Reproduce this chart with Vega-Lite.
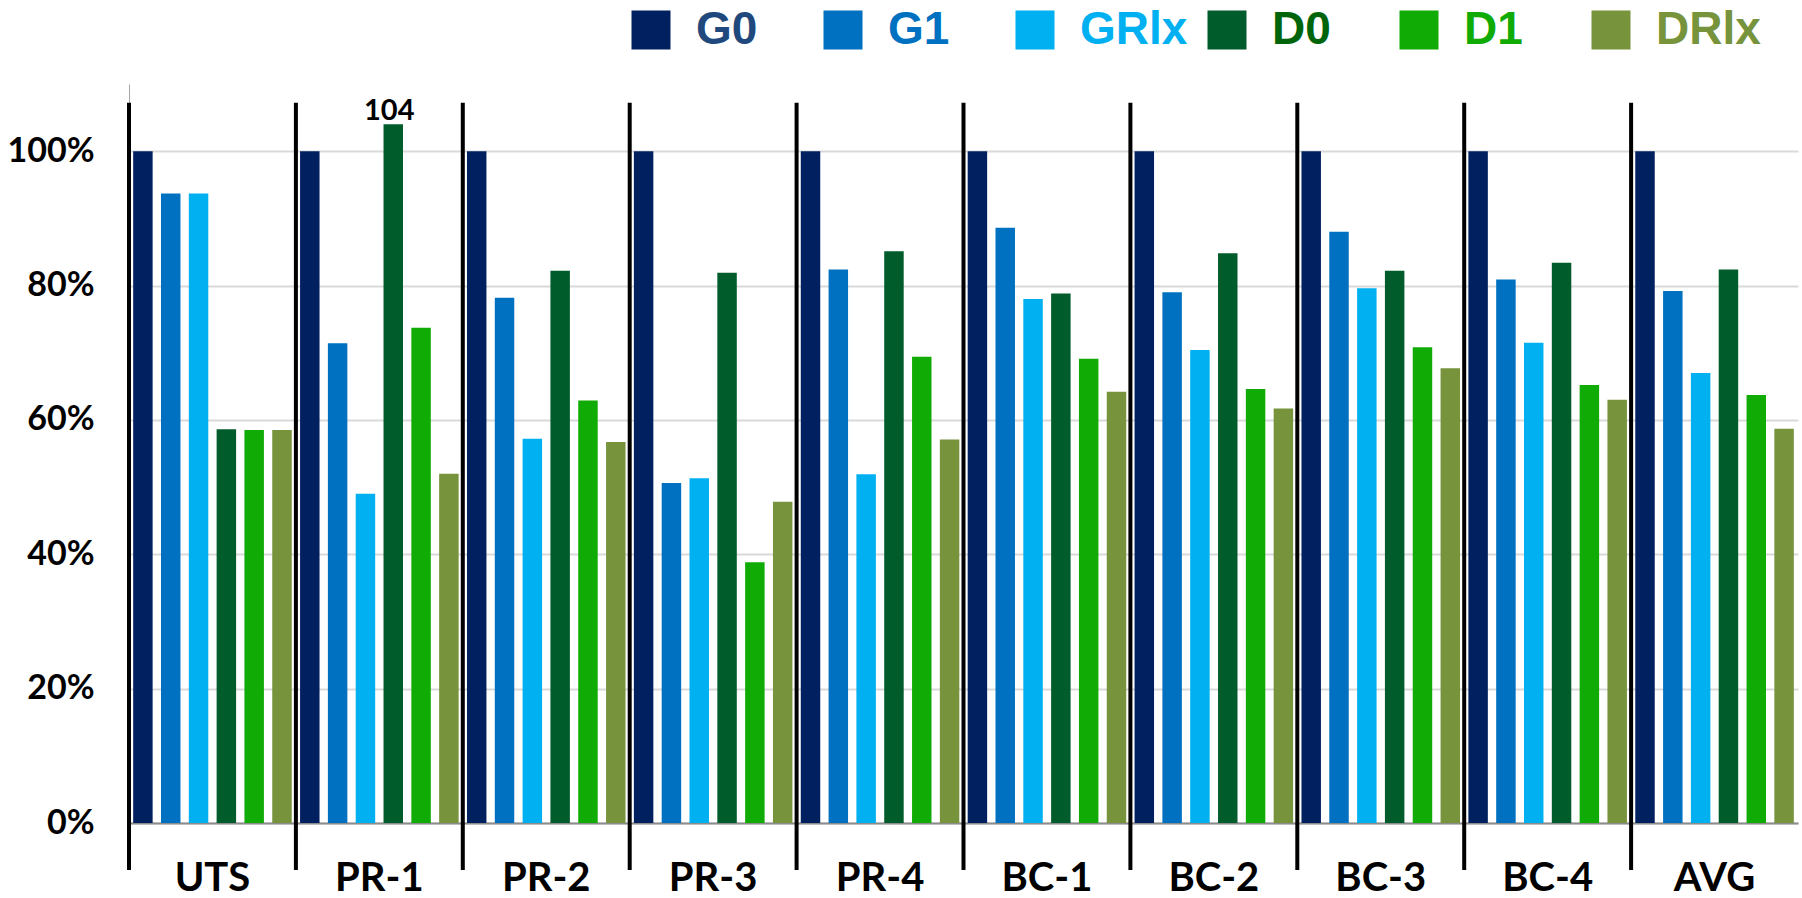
{
  "$schema": "https://vega.github.io/schema/vega-lite/v6.json",
  "width": 1669,
  "height": 739,
  "autosize": {"type": "none"},
  "padding": {"left": 129, "top": 84, "right": 4, "bottom": 75},
  "background": "white",
  "config": {"view": {"stroke": null}, "font": "Lato"},
  "data": {
    "values": [
      {"group": "UTS", "series": "G0", "v": 100},
      {"group": "UTS", "series": "G1", "v": 93.7},
      {"group": "UTS", "series": "GRlx", "v": 93.7},
      {"group": "UTS", "series": "D0", "v": 58.6},
      {"group": "UTS", "series": "D1", "v": 58.5},
      {"group": "UTS", "series": "DRlx", "v": 58.5},
      {"group": "PR-1", "series": "G0", "v": 100},
      {"group": "PR-1", "series": "G1", "v": 71.4},
      {"group": "PR-1", "series": "GRlx", "v": 49.0},
      {"group": "PR-1", "series": "D0", "v": 104},
      {"group": "PR-1", "series": "D1", "v": 73.7},
      {"group": "PR-1", "series": "DRlx", "v": 52.0},
      {"group": "PR-2", "series": "G0", "v": 100},
      {"group": "PR-2", "series": "G1", "v": 78.2},
      {"group": "PR-2", "series": "GRlx", "v": 57.2},
      {"group": "PR-2", "series": "D0", "v": 82.2},
      {"group": "PR-2", "series": "D1", "v": 62.9},
      {"group": "PR-2", "series": "DRlx", "v": 56.7},
      {"group": "PR-3", "series": "G0", "v": 100},
      {"group": "PR-3", "series": "G1", "v": 50.6},
      {"group": "PR-3", "series": "GRlx", "v": 51.3},
      {"group": "PR-3", "series": "D0", "v": 81.9},
      {"group": "PR-3", "series": "D1", "v": 38.8},
      {"group": "PR-3", "series": "DRlx", "v": 47.8},
      {"group": "PR-4", "series": "G0", "v": 100},
      {"group": "PR-4", "series": "G1", "v": 82.4},
      {"group": "PR-4", "series": "GRlx", "v": 51.9},
      {"group": "PR-4", "series": "D0", "v": 85.1},
      {"group": "PR-4", "series": "D1", "v": 69.4},
      {"group": "PR-4", "series": "DRlx", "v": 57.1},
      {"group": "BC-1", "series": "G0", "v": 100},
      {"group": "BC-1", "series": "G1", "v": 88.6},
      {"group": "BC-1", "series": "GRlx", "v": 78.0},
      {"group": "BC-1", "series": "D0", "v": 78.8},
      {"group": "BC-1", "series": "D1", "v": 69.1},
      {"group": "BC-1", "series": "DRlx", "v": 64.2},
      {"group": "BC-2", "series": "G0", "v": 100},
      {"group": "BC-2", "series": "G1", "v": 79.0},
      {"group": "BC-2", "series": "GRlx", "v": 70.4},
      {"group": "BC-2", "series": "D0", "v": 84.8},
      {"group": "BC-2", "series": "D1", "v": 64.6},
      {"group": "BC-2", "series": "DRlx", "v": 61.7},
      {"group": "BC-3", "series": "G0", "v": 100},
      {"group": "BC-3", "series": "G1", "v": 88.0},
      {"group": "BC-3", "series": "GRlx", "v": 79.6},
      {"group": "BC-3", "series": "D0", "v": 82.2},
      {"group": "BC-3", "series": "D1", "v": 70.8},
      {"group": "BC-3", "series": "DRlx", "v": 67.7},
      {"group": "BC-4", "series": "G0", "v": 100},
      {"group": "BC-4", "series": "G1", "v": 80.9},
      {"group": "BC-4", "series": "GRlx", "v": 71.5},
      {"group": "BC-4", "series": "D0", "v": 83.4},
      {"group": "BC-4", "series": "D1", "v": 65.2},
      {"group": "BC-4", "series": "DRlx", "v": 63.0},
      {"group": "AVG", "series": "G0", "v": 100},
      {"group": "AVG", "series": "G1", "v": 79.2},
      {"group": "AVG", "series": "GRlx", "v": 67.0},
      {"group": "AVG", "series": "D0", "v": 82.4},
      {"group": "AVG", "series": "D1", "v": 63.7},
      {"group": "AVG", "series": "DRlx", "v": 58.7}
    ]
  },
  "layer": [
    {
      "mark": {"type": "bar"},
      "encoding": {
        "x": {
          "field": "group", "type": "nominal", "sort": null,
          "scale": {"paddingInner": 0, "paddingOuter": 0},
          "axis": {
            "title": null, "labelAngle": 0, "ticks": false, "grid": false,
            "domainColor": "#8C8C8C", "domainWidth": 2,
            "labelFont": "Lato", "labelFontWeight": "bold", "labelFontSize": 40,
            "labelColor": "black", "labelPadding": 67, "labelBaseline": "alphabetic"
          }
        },
        "xOffset": {
          "field": "series", "type": "nominal", "sort": null,
          "scale": {"paddingInner": 0.3, "paddingOuter": 0.15}
        },
        "y": {
          "field": "v", "type": "quantitative",
          "scale": {"domain": [0, 110], "nice": false, "zero": true},
          "axis": {
            "title": null, "values": [0, 20, 40, 60, 80, 100],
            "labelExpr": "datum.value + '%'",
            "grid": true, "gridColor": "#D9D9D9", "gridWidth": 2,
            "ticks": false, "domainColor": "#A6A6A6", "domainWidth": 1,
            "labelFont": "Lato", "labelFontWeight": "bold", "labelFontSize": 34,
            "labelColor": "black", "labelPadding": 35
          }
        },
        "color": {
          "field": "series", "type": "nominal", "sort": null,
          "scale": {
            "domain": ["G0", "G1", "GRlx", "D0", "D1", "DRlx"],
            "range": ["#002060", "#0070C0", "#00B0F0", "#005C2B", "#11AB05", "#77933C"]
          },
          "legend": {
            "title": null, "orient": "none", "legendX": 499, "legendY": -77,
            "direction": "horizontal", "columns": 6, "padding": 0, "gridAlign": "all",
            "symbolType": "square", "symbolSize": 1521,
            "symbolStrokeWidth": 0, "symbolOpacity": 1,
            "labelFont": "Liberation Sans",
            "labelFontWeight": "bold", "labelFontSize": 46, "labelOffset": 22,
            "labelLimit": 0, "columnPadding": 16,
            "encode": {
              "symbols": {"update": {"fill": {"signal": "datum.value === 'G0' ? '#1F497D' : scale('color', datum.value)"}}},
              "labels": {"update": {"fill": {"signal": "datum.value === 'G0' ? '#1F497D' : datum.value === 'D0' ? '#00650A' : scale('color', datum.value)"}}}
            }
          }
        }
      }
    },
    {
      "transform": [{"filter": "datum.series === 'G0'"}],
      "mark": {"type": "rule", "color": "black", "strokeWidth": 4},
      "encoding": {
        "x": {"field": "group", "type": "nominal", "sort": null, "bandPosition": 0, "axis": {"title": null}},
        "y": {"datum": 107.2, "type": "quantitative", "axis": {"title": null}},
        "y2": {"datum": -7}
      }
    },
    {
      "transform": [{"filter": "datum.v > 100"}],
      "mark": {"type": "text", "font": "Lato", "fontWeight": "bold", "fontSize": 29, "color": "black", "baseline": "alphabetic", "dy": -4, "dx": -4},
      "encoding": {
        "x": {"field": "group", "type": "nominal", "sort": null, "axis": {"title": null}},
        "xOffset": {"field": "series", "type": "nominal", "sort": null},
        "y": {"field": "v", "type": "quantitative", "axis": {"title": null}},
        "text": {"field": "v", "type": "quantitative", "format": "d"}
      }
    }
  ]
}
